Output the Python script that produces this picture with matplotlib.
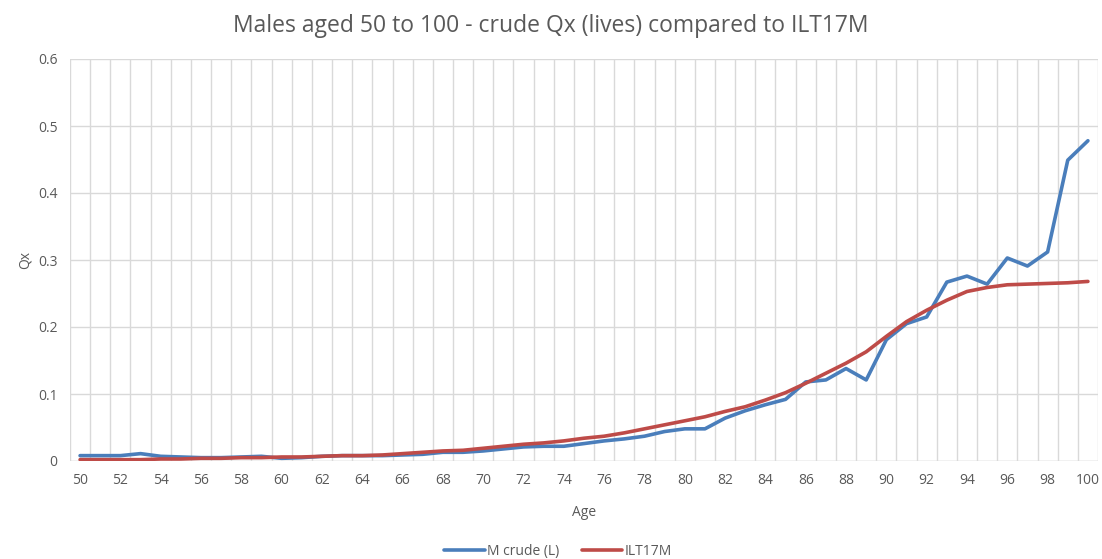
import numpy as np
import matplotlib.pyplot as plt
from matplotlib.ticker import MultipleLocator

ages = list(range(50, 101))

# crude Qx (lives) for males
m_crude = [0.008, 0.008, 0.008, 0.011, 0.007, 0.006, 0.005, 0.005, 0.006, 0.007,
           0.004, 0.005, 0.007, 0.008, 0.008, 0.008, 0.009, 0.010, 0.013, 0.013,
           0.015, 0.018, 0.021, 0.022, 0.022, 0.026, 0.030, 0.033, 0.037, 0.044,
           0.048, 0.048, 0.064, 0.075, 0.084, 0.092, 0.118, 0.121, 0.138, 0.121,
           0.181, 0.205, 0.215, 0.267, 0.276, 0.264, 0.303, 0.291, 0.312, 0.449,
           0.478]

# ILT17M table rates
ilt17m = [0.002, 0.002, 0.002, 0.002, 0.003, 0.003, 0.004, 0.004, 0.005, 0.005,
          0.006, 0.006, 0.007, 0.008, 0.008, 0.009, 0.011, 0.013, 0.015, 0.016,
          0.019, 0.022, 0.025, 0.027, 0.030, 0.034, 0.037, 0.042, 0.048, 0.054,
          0.060, 0.066, 0.074, 0.081, 0.091, 0.102, 0.116, 0.131, 0.146, 0.163,
          0.186, 0.208, 0.225, 0.240, 0.253, 0.259, 0.263, 0.264, 0.265, 0.266,
          0.268]

plt.rcParams['font.family'] = ['Open Sans', 'DejaVu Sans']
txt = "#595959"
grid = "#d9d9d9"

fig = plt.figure(figsize=(11.02, 5.59), dpi=100)
ax = fig.add_axes([70/1102, 1-461/559, 1028/1102, 402/559])

ax.plot(ages, m_crude, color="#4a7ebb", lw=2.6, label="M crude (L)", solid_capstyle="round")
ax.plot(ages, ilt17m, color="#be4b48", lw=2.6, label="ILT17M", solid_capstyle="round")

ax.set_xlim(49.5, 100.5)
ax.set_ylim(0, 0.6)
ax.set_xticks(ages[::2])
ax.xaxis.set_minor_locator(MultipleLocator(1, offset=0.5))
ax.set_yticks(np.arange(0, 0.61, 0.1))
ax.set_yticklabels(["0", "0.1", "0.2", "0.3", "0.4", "0.5", "0.6"])
ax.tick_params(which="both", length=0, labelsize=10, colors=txt, pad=9)
ax.grid(which="minor", axis="x", color=grid, lw=1)
ax.grid(which="major", axis="y", color=grid, lw=1)
for s in ax.spines.values():
    s.set_visible(False)
ax.axhline(0, color=grid, lw=1, zorder=0)

ax.set_xlabel("Age", fontsize=10, color=txt, labelpad=12)
ax.set_ylabel("Qx", fontsize=10, color=txt, labelpad=4)
fig.suptitle("Males aged 50 to 100 - crude Qx (lives) compared to ILT17M",
             y=0.975, fontsize=16.5, color=txt)

ax.legend(loc="upper center", bbox_to_anchor=(0.475, -0.175), ncol=2, frameon=False,
          fontsize=10, labelcolor=txt, handlelength=2.9, handletextpad=0.2, columnspacing=1.6)

fig.savefig("out.png", dpi=100)
